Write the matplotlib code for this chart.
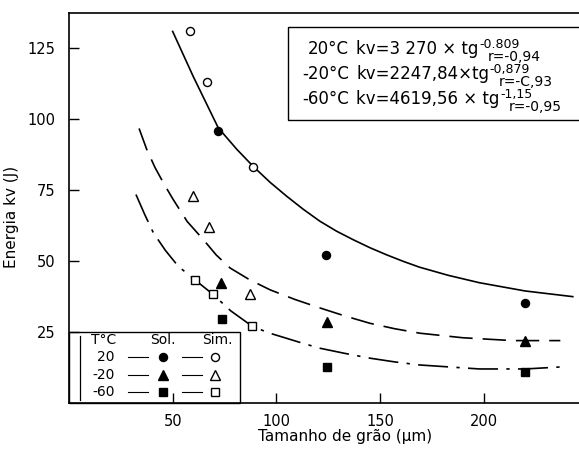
import matplotlib
matplotlib.use("Agg")
import matplotlib.pyplot as plt
from matplotlib.patches import Rectangle
from matplotlib.lines import Line2D

plt.rcParams['font.family'] = ['DejaVu Sans']

# ---- data ----
sol20_x = [72, 124, 220]
sol20_y = [96, 52.3, 35.3]
sim20_x = [58.4, 66.6, 88.9]
sim20_y = [131, 113, 83.3]

solm20_x = [73.2, 124.3, 220]
solm20_y = [42.3, 28.7, 22]
simm20_x = [59.7, 67.7, 87.3]
simm20_y = [72.9, 62.1, 38.4]

solm60_x = [73.6, 124.6, 220]
solm60_y = [29.6, 12.8, 11]
simm60_x = [60.6, 69.3, 88.1]
simm60_y = [43.5, 38.4, 27.2]

# hand-drawn fitted curves
c20_x = [50, 55, 60, 66, 72, 81, 89, 97, 105, 113, 121, 129, 137, 145, 153, 161, 169, 183, 198, 220, 243]
c20_y = [131, 123, 115, 106, 97, 89.4, 83.3, 77.8, 72.9, 68.3, 64.1, 60.6, 57.6, 54.8, 52.3, 50, 47.9, 45, 42.4, 39.5, 37.5]
cm20_x = [33.8, 37.5, 41.5, 46, 50.3, 57, 64.8, 71, 77.7, 87, 97, 109, 121.1, 133, 145.2, 157, 169.3, 190, 214, 237]
cm20_y = [96.8, 89.4, 83, 77, 71.7, 64, 57.6, 52.2, 47.6, 43.5, 39.9, 36.5, 33.5, 30.7, 28.1, 26.2, 24.6, 23, 22, 22]
cm60_x = [32.3, 36.5, 40.7, 46.5, 52.7, 60.6, 69.3, 78, 88.1, 96, 105, 113, 121.1, 133, 145.2, 157, 169.3, 198, 220, 237]
cm60_y = [73.5, 66.5, 60, 53.8, 48.2, 43.5, 38.4, 32.5, 27.2, 24.8, 22.8, 21, 19.3, 17.5, 15.8, 14.5, 13.4, 12, 12, 12.7]

xticks = [50, 100, 150, 200]
yticks = [25, 50, 75, 100, 125]

W, H = 579, 450
fig = plt.figure(figsize=(W / 100, H / 100), dpi=100)
L, R, B, T = 69, 579, 403, 13
ax = fig.add_axes([L / W, 1 - B / H, (R - L) / W, (B - T) / H])
ax.set_xlim(0, 246)
ax.set_ylim(0, 137.5)
ax.spines['right'].set_visible(False)
for s in ax.spines.values():
    s.set_linewidth(1.2)

ax.set_xticks(xticks)
ax.set_yticks(yticks)
ax.tick_params(direction='in', length=7, width=1.0, labelsize=10.5, pad=8)
ax.tick_params(axis='y', pad=10)

lw = 1.2
ax.plot(c20_x, c20_y, '-', color='black', lw=lw)
ax.plot(cm20_x, cm20_y, color='black', lw=lw, dashes=(14, 6))
ax.plot(cm60_x, cm60_y, color='black', lw=lw, dashes=(18, 5, 2, 5))

ax.plot(sol20_x, sol20_y, 'o', color='black', ms=5.8, ls='none')
ax.plot(sim20_x, sim20_y, 'o', mfc='white', mec='black', mew=1.0, ms=5.8, ls='none')
ax.plot(solm20_x, solm20_y, '^', color='black', ms=7, ls='none')
ax.plot(simm20_x, simm20_y, '^', mfc='white', mec='black', mew=1.0, ms=7, ls='none')
ax.plot(solm60_x, solm60_y, 's', color='black', ms=5.5, ls='none')
ax.plot(simm60_x, simm60_y, 's', mfc='white', mec='black', mew=1.0, ms=5.8, ls='none')

fig.text(0.02, (1 - B / H + 1 - T / H) / 2 - 0.02, 'Energia kv (J)', rotation=90,
         ha='center', va='center', fontsize=11)
fig.text(345 / W, 1 - 436 / H, 'Tamanho de grão (μm)', ha='center', va='center',
         fontsize=11)

# ---- equation box (top right) ----
def px(x, y):
    return x / W, 1 - y / H

fig.patches.append(Rectangle(px(288, 120), (W - 288) / W + 0.05, (120 - 27) / H,
                             transform=fig.transFigure, fill=False, lw=1.0,
                             edgecolor='black', clip_on=False))
rows = [('20°C', 'kv=3 270 × tg', '-0.809', 'r=-0,94'),
        ('-20°C', 'kv=2247,84×tg', '-0,879', 'r=-C,93'),
        ('-60°C', 'kv=4619,56 × tg', '-1,15', 'r=-0,95')]
row_y = [54, 79, 104]
fs = 12
for (lab, eq, sup, r), y in zip(rows, row_y):
    fig.text(*px(349, y), lab, ha='right', va='baseline', fontsize=fs)
    t = fig.text(*px(356, y), eq, ha='left', va='baseline', fontsize=fs)
    ax.annotate(sup, xy=(1, 0), xycoords=t, xytext=(0.5, 7.5),
                textcoords='offset points', ha='left', va='baseline',
                fontsize=9, annotation_clip=False)
    ax.annotate(r, xy=(1, 0), xycoords=t, xytext=(7, -2),
                textcoords='offset points', ha='left', va='baseline',
                fontsize=10, annotation_clip=False)

# ---- legend table (bottom left) ----
fig.patches.append(Rectangle(px(69, 403), (240 - 69) / W, (403 - 332) / H,
                             transform=fig.transFigure, fill=False, lw=1.0,
                             edgecolor='black'))
fig.lines.append(Line2D([80 / W, 80 / W], [1 - 336 / H, 1 - 400 / H],
                        transform=fig.transFigure, color='black', lw=0.9))
fig.text(*px(104, 340), 'T°C', ha='center', va='center', fontsize=10)
fig.text(*px(163, 340), 'Sol.', ha='center', va='center', fontsize=10)
fig.text(*px(217, 340), 'Sim.', ha='center', va='center', fontsize=10)
leg_rows = [('20', 'o', 5.8, 357), ('-20', '^', 7, 375), ('-60', 's', 5.5, 392)]
for lab, mk, size, y in leg_rows:
    fig.text(*px(115, y), lab, ha='right', va='center', fontsize=10)
    fig.lines.append(Line2D([128 / W, 148 / W], [1 - y / H] * 2,
                            transform=fig.transFigure, color='black', lw=0.8))
    fig.lines.append(Line2D([182 / W, 202 / W], [1 - y / H] * 2,
                            transform=fig.transFigure, color='black', lw=0.8))
    fig.lines.append(Line2D([163 / W], [1 - y / H], transform=fig.transFigure,
                            marker=mk, ms=size, color='black', ls='none'))
    fig.lines.append(Line2D([215 / W], [1 - y / H], transform=fig.transFigure,
                            marker=mk, ms=size, mfc='white', mec='black',
                            mew=1.0, ls='none'))

fig.savefig('out.png', dpi=100)
